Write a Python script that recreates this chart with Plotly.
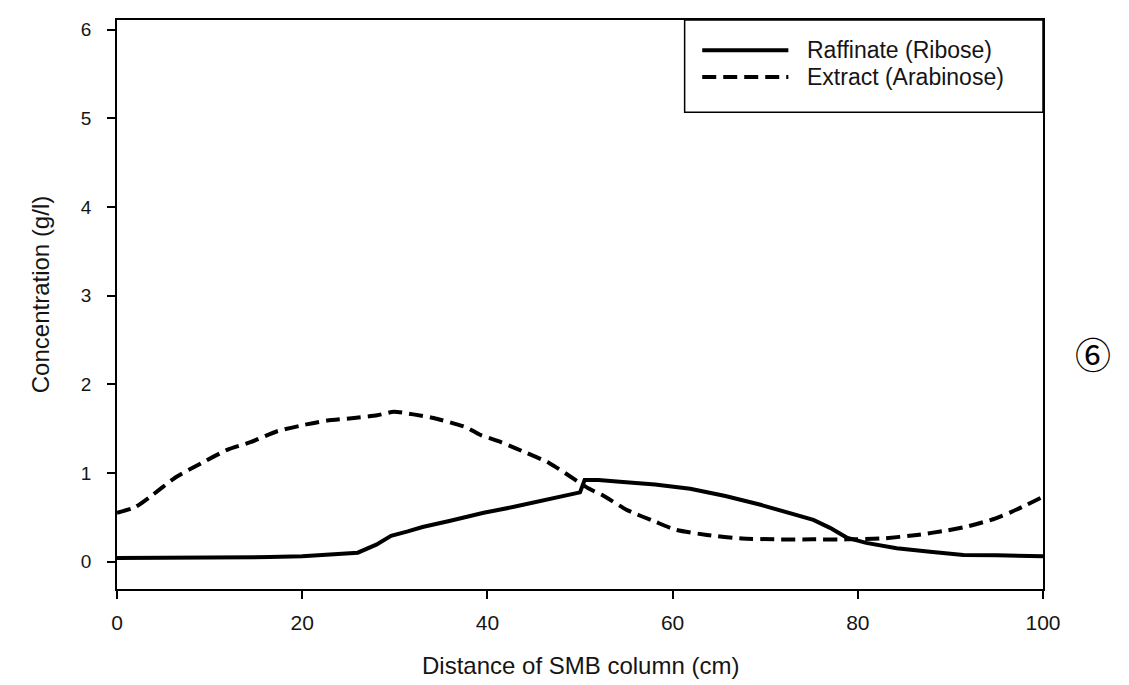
import plotly.graph_objects as go

# ---- data ----
raff_x = [0, 5, 10, 15, 16.5, 20, 22, 24, 26, 28, 29.6, 31.4, 33, 36, 39.6, 43, 46.7, 50, 50.5, 52,
          54.3, 58.1, 61.9, 65.7, 69.5, 73.2, 75.2, 77, 78.8, 80.9, 84.2, 87.8, 91.4, 95, 100]
raff_y = [0.04, 0.04, 0.04, 0.04, 0.05, 0.06, 0.07, 0.09, 0.10, 0.19, 0.29, 0.34, 0.39, 0.46, 0.55, 0.62,
          0.70, 0.78, 0.92, 0.92, 0.90, 0.87, 0.82, 0.74, 0.64, 0.53, 0.47, 0.38, 0.27, 0.21, 0.15, 0.11,
          0.075, 0.07, 0.06]

ext_x = [0, 1.9, 3.7, 6.2, 9.1, 11.9, 14.5, 17.3, 20.6, 22.7, 25.6, 28.1, 29.9, 32, 34.2, 37.8, 39.2,
         41.4, 43, 46.7, 49.8, 51, 52.4, 55.1, 58.1, 60.3, 63.7, 67.5, 71.3, 75.1, 78.8, 82.6, 86.4,
         89.6, 91.6, 94.4, 96.6, 100]
ext_y = [0.55, 0.61, 0.74, 0.94, 1.11, 1.26, 1.35, 1.47, 1.55, 1.59, 1.62, 1.65, 1.69, 1.66, 1.62, 1.51,
         1.43, 1.35, 1.28, 1.11, 0.90, 0.82, 0.75, 0.58, 0.45, 0.36, 0.30, 0.26, 0.25, 0.25, 0.25, 0.26,
         0.30, 0.35, 0.39, 0.47, 0.56, 0.73]

series_names = ["Raffinate (Ribose)", "Extract (Arabinose)"]
x_ticks = [0, 20, 40, 60, 80, 100]
y_ticks = [0, 1, 2, 3, 4, 5, 6]
x_title = "Distance of SMB column (cm)"
y_title = "Concentration (g/l)"
panel_label = "⑥"

FONT = "Liberation Sans, Arial, sans-serif"
TXT = "#151515"
DASH = "14px,7px"

fig = go.Figure()
fig.add_trace(go.Scatter(x=raff_x, y=raff_y, mode="lines", name=series_names[0],
                         line=dict(color="black", width=4), showlegend=False))
fig.add_trace(go.Scatter(x=ext_x, y=ext_y, mode="lines", name=series_names[1],
                         line=dict(color="black", width=4, dash=DASH, shape="spline", smoothing=0.6),
                         showlegend=False))

axis_common = dict(showline=True, linecolor="black", linewidth=1.5, mirror=True,
                   ticks="outside", ticklen=8, tickwidth=1.5, tickcolor="black",
                   showgrid=False, zeroline=False)

fig.update_xaxes(range=[0, 100], tickvals=x_ticks, ticktext=[str(v) for v in x_ticks],
                 tickfont=dict(family=FONT, size=21, color=TXT), ticklabelstandoff=6,
                 **axis_common)
fig.update_yaxes(range=[-0.31, 6.11], tickvals=y_ticks, ticktext=[str(v) for v in y_ticks],
                 tickfont=dict(family=FONT, size=19, color=TXT), ticklabelstandoff=12,
                 **axis_common)

# custom legend box (flush with the top-right corner of the frame)
shapes = [
    dict(type="rect", xref="paper", yref="paper", x0=0.613, x1=1.0, y0=0.838, y1=1.0,
         line=dict(color="black", width=1.5), fillcolor="white", layer="above"),
    dict(type="line", xref="paper", yref="paper", x0=0.632, x1=0.725, y0=0.947, y1=0.947,
         line=dict(color="black", width=4), layer="above"),
    dict(type="line", xref="paper", yref="paper", x0=0.632, x1=0.725, y0=0.900, y1=0.900,
         line=dict(color="black", width=4, dash=DASH), layer="above"),
]
annotations = [
    dict(xref="paper", yref="paper", x=0.743, y=0.947, text=series_names[0], showarrow=False,
         xanchor="left", yanchor="middle", font=dict(family=FONT, size=23, color=TXT)),
    dict(xref="paper", yref="paper", x=0.743, y=0.900, text=series_names[1], showarrow=False,
         xanchor="left", yanchor="middle", font=dict(family=FONT, size=23, color=TXT)),
    dict(xref="paper", yref="paper", x=0.5, y=-0.1336, text=x_title, showarrow=False,
         xanchor="center", yanchor="middle", font=dict(family=FONT, size=24, color=TXT)),
    dict(xref="paper", yref="paper", x=-0.0832, y=0.518, text=y_title, showarrow=False,
         textangle=-90, xanchor="center", yanchor="middle", font=dict(family=FONT, size=24, color=TXT)),
    dict(xref="paper", yref="paper", x=1.054, y=0.415, text=panel_label, showarrow=False,
         xanchor="center", yanchor="middle",
         font=dict(family="Noto Sans CJK JP, DejaVu Sans", size=36, color="black")),
]

fig.update_layout(width=1129, height=685, margin=dict(l=117, r=86, t=20, b=96),
                  paper_bgcolor="white", plot_bgcolor="white",
                  shapes=shapes, annotations=annotations, showlegend=False)

fig.write_html("out.html")
